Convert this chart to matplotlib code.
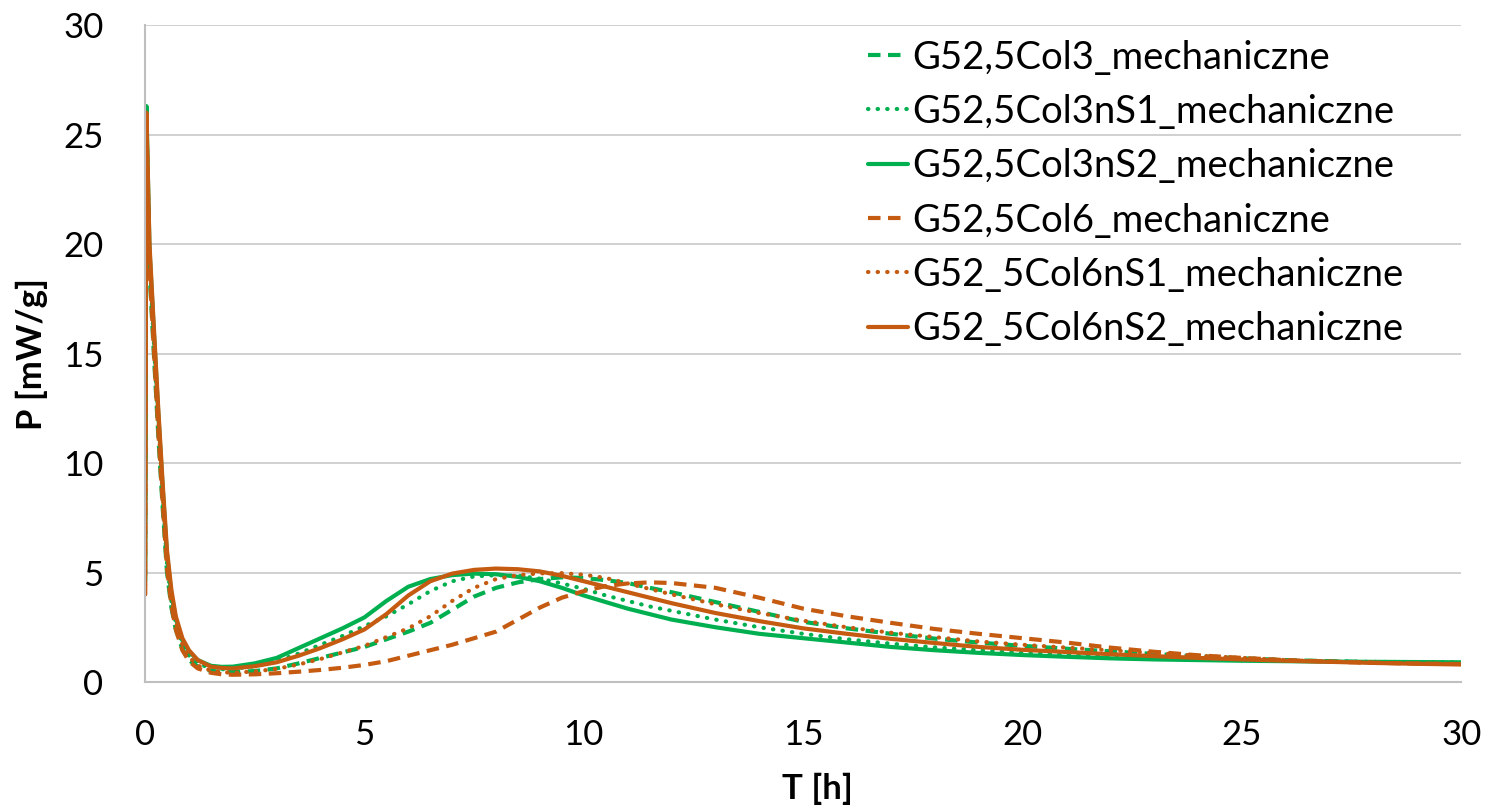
import matplotlib
matplotlib.use("Agg")
import matplotlib.pyplot as plt

plt.rcParams["font.family"] = ["Lato", "DejaVu Sans"]

# sampling times [h]
t = [0, 0.03, 0.1, 0.2, 0.3, 0.4, 0.5, 0.6, 0.7, 0.85, 1.0, 1.2, 1.5, 1.75,
     2.0, 2.5, 3.0, 3.5, 4.0, 4.5, 5.0, 5.5, 6.0, 6.5, 7.0, 7.5, 8.0, 8.5,
     9.0, 9.5, 10, 10.5, 11, 11.5, 12, 13, 14, 15, 16, 17, 18, 19, 20,
     21, 22, 23, 24, 25, 26, 27, 28, 29, 30]

# heat flow [mW/g]
col3 = [4.6, 25.5, 18.8, 15.0, 11.3, 8.0, 5.0, 3.4, 2.4, 1.5, 1.0, 0.7, 0.5, 0.46,
        0.45, 0.5, 0.62, 0.85, 1.1, 1.35, 1.6, 1.95, 2.3, 2.7, 3.3, 3.9, 4.3, 4.55,
        4.7, 4.78, 4.75, 4.65, 4.52, 4.3, 4.1, 3.65, 3.2, 2.75, 2.45, 2.2, 1.98, 1.8, 1.65,
        1.52, 1.4, 1.28, 1.17, 1.08, 1.0, 0.95, 0.9, 0.87, 0.85]
col3ns1 = [4.6, 25.8, 19.3, 15.5, 11.8, 8.5, 5.4, 3.7, 2.7, 1.7, 1.2, 0.85, 0.62, 0.58,
           0.6, 0.72, 0.95, 1.3, 1.7, 2.1, 2.55, 3.0, 3.55, 4.15, 4.6, 4.82, 4.88, 4.85,
           4.72, 4.5, 4.25, 3.95, 3.7, 3.45, 3.25, 2.85, 2.5, 2.2, 1.95, 1.75, 1.58, 1.45, 1.33,
           1.24, 1.16, 1.1, 1.05, 1.0, 0.97, 0.94, 0.92, 0.91, 0.9]
col3ns2 = [4.6, 26.3, 19.8, 16.0, 12.3, 8.9, 5.8, 4.0, 2.9, 1.9, 1.4, 1.0, 0.74, 0.69,
           0.7, 0.85, 1.1, 1.55, 2.0, 2.45, 2.95, 3.7, 4.35, 4.7, 4.88, 4.95, 4.92, 4.8,
           4.6, 4.3, 3.95, 3.65, 3.35, 3.1, 2.85, 2.5, 2.2, 2.0, 1.8, 1.6, 1.45, 1.33, 1.23,
           1.15, 1.08, 1.03, 1.0, 0.97, 0.95, 0.93, 0.92, 0.91, 0.9]
col6 = [4.0, 25.6, 19.0, 15.2, 11.5, 8.2, 5.2, 3.5, 2.4, 1.45, 0.95, 0.62, 0.42, 0.35,
        0.33, 0.35, 0.4, 0.47, 0.55, 0.65, 0.78, 0.95, 1.2, 1.45, 1.7, 2.0, 2.3, 2.85,
        3.4, 3.85, 4.15, 4.38, 4.5, 4.55, 4.52, 4.3, 3.85, 3.35, 3.0, 2.7, 2.42, 2.2, 2.0,
        1.8, 1.57, 1.38, 1.22, 1.1, 1.0, 0.93, 0.88, 0.84, 0.82]
col6ns1 = [4.0, 25.8, 19.5, 15.7, 12.0, 8.6, 5.6, 3.8, 2.7, 1.7, 1.15, 0.75, 0.52, 0.45,
           0.42, 0.48, 0.6, 0.8, 1.05, 1.35, 1.65, 2.05, 2.45, 3.0, 3.7, 4.3, 4.7, 4.88,
           4.96, 4.97, 4.9, 4.75, 4.5, 4.25, 4.0, 3.55, 3.15, 2.8, 2.5, 2.25, 2.05, 1.85, 1.7,
           1.57, 1.45, 1.33, 1.2, 1.1, 1.0, 0.93, 0.88, 0.85, 0.82]
col6ns2 = [4.0, 26.0, 20.0, 16.2, 12.5, 9.1, 6.0, 4.2, 3.0, 2.0, 1.45, 1.0, 0.7, 0.64,
           0.62, 0.72, 0.9, 1.2, 1.55, 1.95, 2.4, 3.1, 3.95, 4.6, 4.95, 5.12, 5.18, 5.15,
           5.05, 4.85, 4.6, 4.35, 4.1, 3.85, 3.6, 3.15, 2.78, 2.45, 2.2, 1.97, 1.78, 1.6, 1.47,
           1.37, 1.27, 1.18, 1.1, 1.03, 0.97, 0.92, 0.87, 0.83, 0.8]

labels = ["G52,5Col3_mechaniczne", "G52,5Col3nS1_mechaniczne", "G52,5Col3nS2_mechaniczne",
          "G52,5Col6_mechaniczne", "G52_5Col6nS1_mechaniczne", "G52_5Col6nS2_mechaniczne"]

GREEN = "#00B050"
ORANGE = "#C55A11"
DASH = (0, (3.0, 1.8))
DOT = (0, (0.1, 2.2))

series = [
    (col3, GREEN, DASH),
    (col3ns1, GREEN, DOT),
    (col3ns2, GREEN, "-"),
    (col6, ORANGE, DASH),
    (col6ns1, ORANGE, DOT),
    (col6ns2, ORANGE, "-"),
]

fig = plt.figure(figsize=(14.88, 8.09), dpi=100)
ax = fig.add_axes([0.0975, 0.157, 0.8845, 0.812])

for (y, color, ls), label in zip(series, labels):
    ax.plot(t, y, color=color, linestyle=ls, linewidth=3.0, label=label,
            dash_capstyle="butt" if ls == DASH else "round",
            solid_capstyle="round", solid_joinstyle="round")

ax.set_xlim(0, 30)
ax.set_ylim(0, 30)
ax.set_xticks(range(0, 31, 5))
ax.set_yticks(range(0, 31, 5))
ax.tick_params(axis="both", length=0, labelsize=25, colors="black")
ax.tick_params(axis="x", pad=27)
ax.tick_params(axis="y", pad=30)
ax.grid(axis="y", color="#C8C8C8", linewidth=1.2)
ax.set_axisbelow(True)
for side in ["top", "right"]:
    ax.spines[side].set_visible(False)
for side in ["left", "bottom"]:
    ax.spines[side].set_color("#BFBFBF")
    ax.spines[side].set_linewidth(1.5)

ax.set_xlabel("T [h]", fontsize=25, fontweight="bold")
ax.set_ylabel("P [mW/g]", fontsize=25, fontweight="bold")
ax.xaxis.set_label_coords(0.511, -0.138)
ax.yaxis.set_label_coords(-0.074, 0.5)

leg = ax.legend(loc="upper left", bbox_to_anchor=(0.549, 0.978), frameon=False,
                fontsize=27.5, handlelength=1.05, handletextpad=0.13, labelspacing=0.48,
                borderaxespad=0, borderpad=0)

fig.savefig("out.png", dpi=100, facecolor="white")
